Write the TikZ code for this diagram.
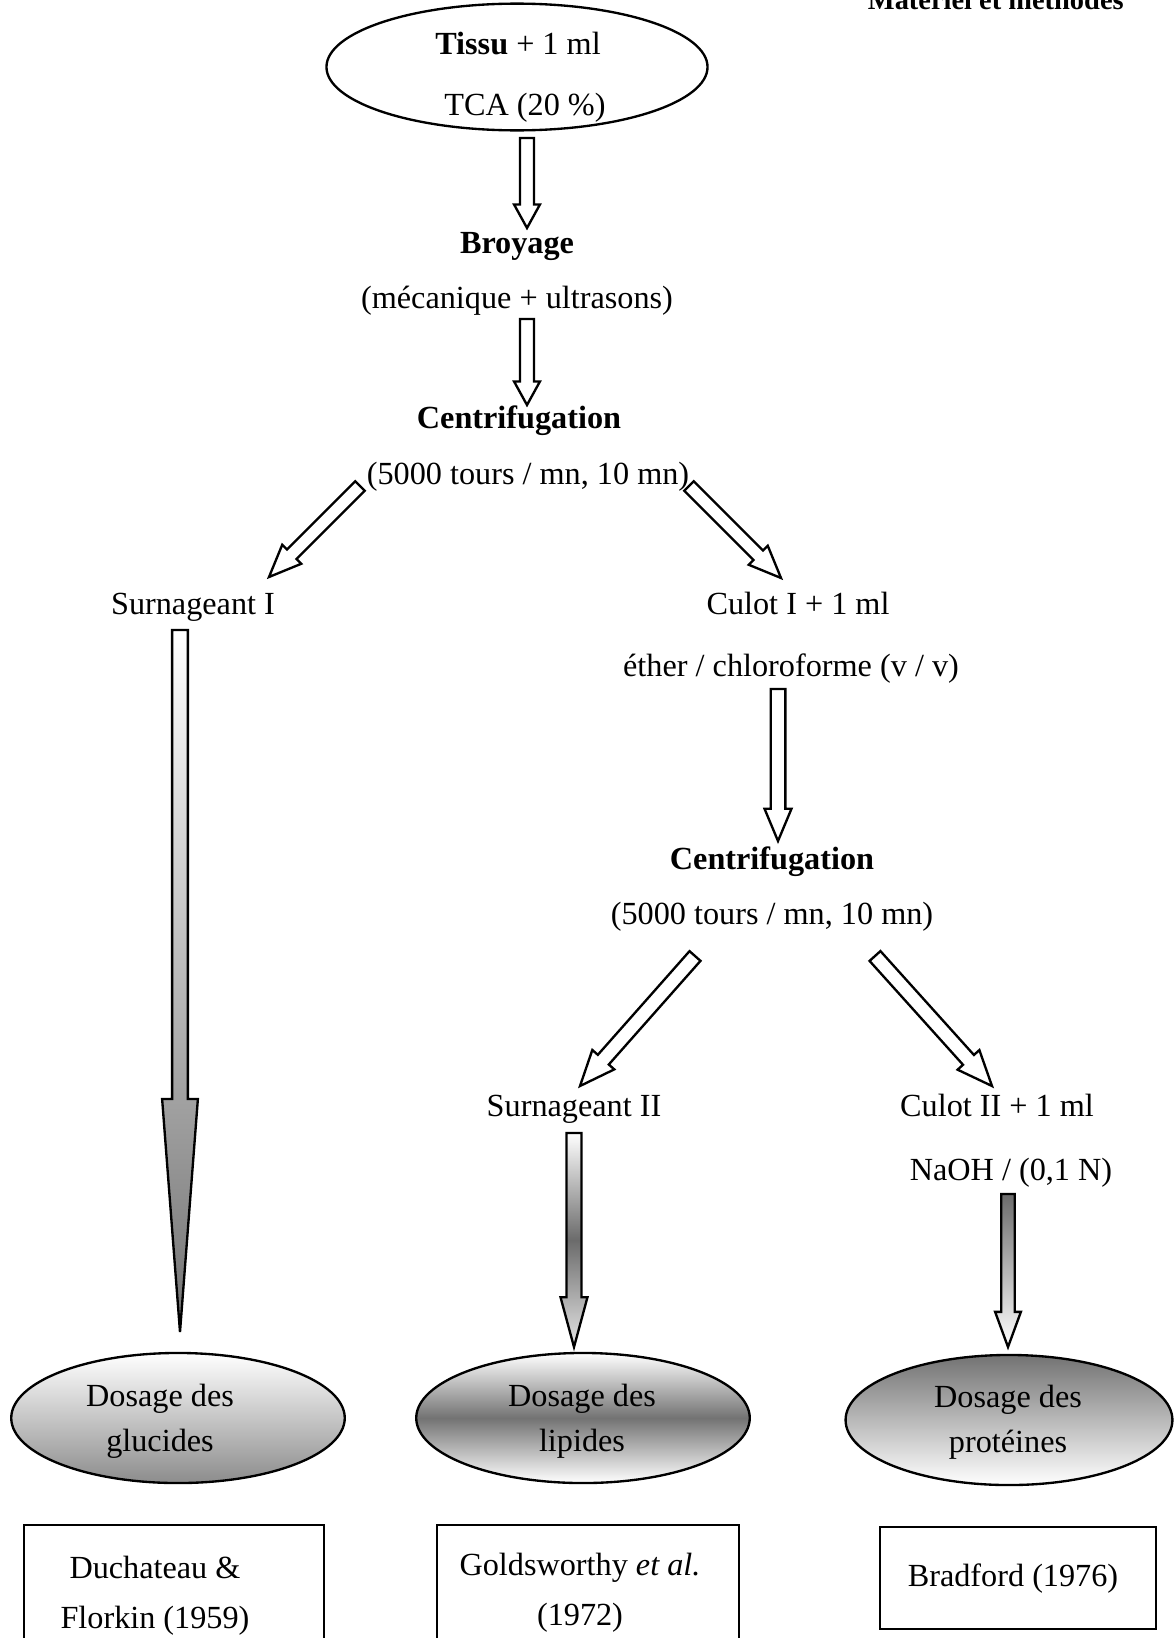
\documentclass[tikz,border=0pt]{standalone}
\usepackage{fontspec}
\setmainfont{Liberation Serif}
\usetikzlibrary{calc,shapes}

% #1 options, #2 depart, #3 pointe, #4 demi-largeur du corps, #5 demi-largeur de la tete, #6 longueur de la tete
\newcommand{\grossefleche}[6][]{%
  \draw[fleche,#1] ($(#2)!#4!90:(#3)$)
    -- ($($(#3)!#6!(#2)$)!#4!90:(#3)$)
    -- ($($(#3)!#6!(#2)$)!#5!90:(#3)$)
    -- (#3)
    -- ($($(#3)!#6!(#2)$)!#5!-90:(#3)$)
    -- ($($(#3)!#6!(#2)$)!#4!-90:(#3)$)
    -- ($(#2)!#4!-90:(#3)$) -- cycle;}

\begin{document}
\begin{tikzpicture}
[x=0.012cm, y=-0.012cm, font=\fontsize{11}{15.4}\selectfont,
texte/.style={inner sep=0pt, text height=0.7em, text depth=0.22em},
gras/.style={texte, font=\fontsize{11}{13}\selectfont\bfseries},
fleche/.style={draw=black, line width=0.8pt, fill=white, line join=miter},
dosage/.style={ellipse, draw=black, line width=0.8pt, inner sep=0pt, minimum width=4cm, minimum height=1.56cm},
boite/.style={rectangle, draw=black, line width=0.6pt, inner sep=0pt, minimum width=3.6cm, minimum height=1.56cm},
bloc/.style={inner sep=0pt, align=center}]

\clip (0,0) rectangle (1175,1638);

\node[anchor=base east, font=\fontsize{9.7}{12}\selectfont\bfseries] (titre) at (1134,9) {Matériel et méthodes};

\node[ellipse, draw=black, line width=0.8pt, inner sep=0pt, minimum width=4.57cm, minimum height=1.52cm] (tissu) at (517,67) {};
\node[texte] (tissutxt) at (518,47) {\textbf{Tissu} + 1 ml};
\node[texte] (tca) at (525,108) {TCA (20 \%)};
\node[gras] (broyage) at (517,246) {Broyage};
\node[texte] (meca) at (517,301) {(mécanique + ultrasons)};
\node[gras] (centri1) at (519,421) {Centrifugation};
\node[texte] (cond1) at (528,477) {(5000 tours / mn, 10 mn)};
\node[texte] (surn1) at (193,607) {Surnageant I};
\node[texte] (culot1) at (798,607) {Culot I + 1 ml};
\node[texte] (ether) at (791,669) {éther / chloroforme (v / v)};
\node[gras] (centri2) at (772,862) {Centrifugation};
\node[texte] (cond2) at (772,917) {(5000 tours / mn, 10 mn)};
\node[texte] (surn2) at (574,1109) {Surnageant II};
\node[texte] (culot2) at (997,1109) {Culot II + 1 ml};
\node[texte] (naoh) at (1011,1173) {NaOH / (0,1 N)};

\node[dosage, top color=white, bottom color=black!45] (gluc) at (178,1418) {};
\node[dosage, top color=white, bottom color=white, middle color=black!55] (lip) at (583,1418) {};
\node[dosage, minimum width=3.92cm, top color=black!55, bottom color=white] (prot) at (1009,1420) {};
\node[bloc] (gluctxt) at (160,1421) {Dosage des\\glucides};
\node[bloc] (liptxt) at (582,1421) {Dosage des\\lipides};
\node[bloc] (prottxt) at (1008,1422) {Dosage des\\protéines};

\node[boite] (duch) at (174,1590) {};
\node[boite, minimum width=3.62cm] (gold) at (588,1590) {};
\node[boite, minimum width=3.31cm, minimum height=1.22cm] (brad) at (1018,1578) {};
\node[bloc, font=\fontsize{11}{17}\selectfont] (duchtxt) at (155,1596) {Duchateau \&\\Florkin (1959)};
\node[bloc, font=\fontsize{11}{17}\selectfont] (goldtxt) at (580,1593) {Goldsworthy \textit{et al.}\\(1972)};
\node[bloc] (bradtxt) at (1013,1579) {Bradford (1976)};

\coordinate (f1a) at (527,138);  \coordinate (f1b) at (527,228);
\coordinate (f2a) at (527,319);  \coordinate (f2b) at (527,405);
\coordinate (f3a) at (360,486);  \coordinate (f3b) at (269,577);
\coordinate (f4a) at (689,486);  \coordinate (f4b) at (781,578);
\coordinate (f5a) at (180,630);  \coordinate (f5b) at (180,1332);
\coordinate (f6a) at (778,689);  \coordinate (f6b) at (778,841);
\coordinate (f7a) at (695,956);  \coordinate (f7b) at (580,1086);
\coordinate (f8a) at (875,956);  \coordinate (f8b) at (992,1086);
\coordinate (f9a) at (574,1133); \coordinate (f9b) at (574,1347);
\coordinate (f10a) at (1008,1194); \coordinate (f10b) at (1008,1347);

\grossefleche{f1a}{f1b}{2.4pt}{4.4pt}{8pt}
\grossefleche{f2a}{f2b}{2.4pt}{4.4pt}{8pt}
\grossefleche{f3a}{f3b}{2.3pt}{4.6pt}{11pt}
\grossefleche{f4a}{f4b}{2.3pt}{4.6pt}{11pt}
\grossefleche[top color=white, bottom color=black!55]{f5a}{f5b}{2.7pt}{6.1pt}{79.5pt}
\grossefleche{f6a}{f6b}{2.5pt}{4.6pt}{11pt}
\grossefleche{f7a}{f7b}{2.5pt}{5pt}{12pt}
\grossefleche{f8a}{f8b}{2.5pt}{5pt}{12pt}
\grossefleche[top color=white, bottom color=black!10, middle color=black!58]{f9a}{f9b}{2.56pt}{4.6pt}{17pt}
\grossefleche[top color=black!58, bottom color=white]{f10a}{f10b}{2.3pt}{4.4pt}{12pt}
\end{tikzpicture}
\end{document}
